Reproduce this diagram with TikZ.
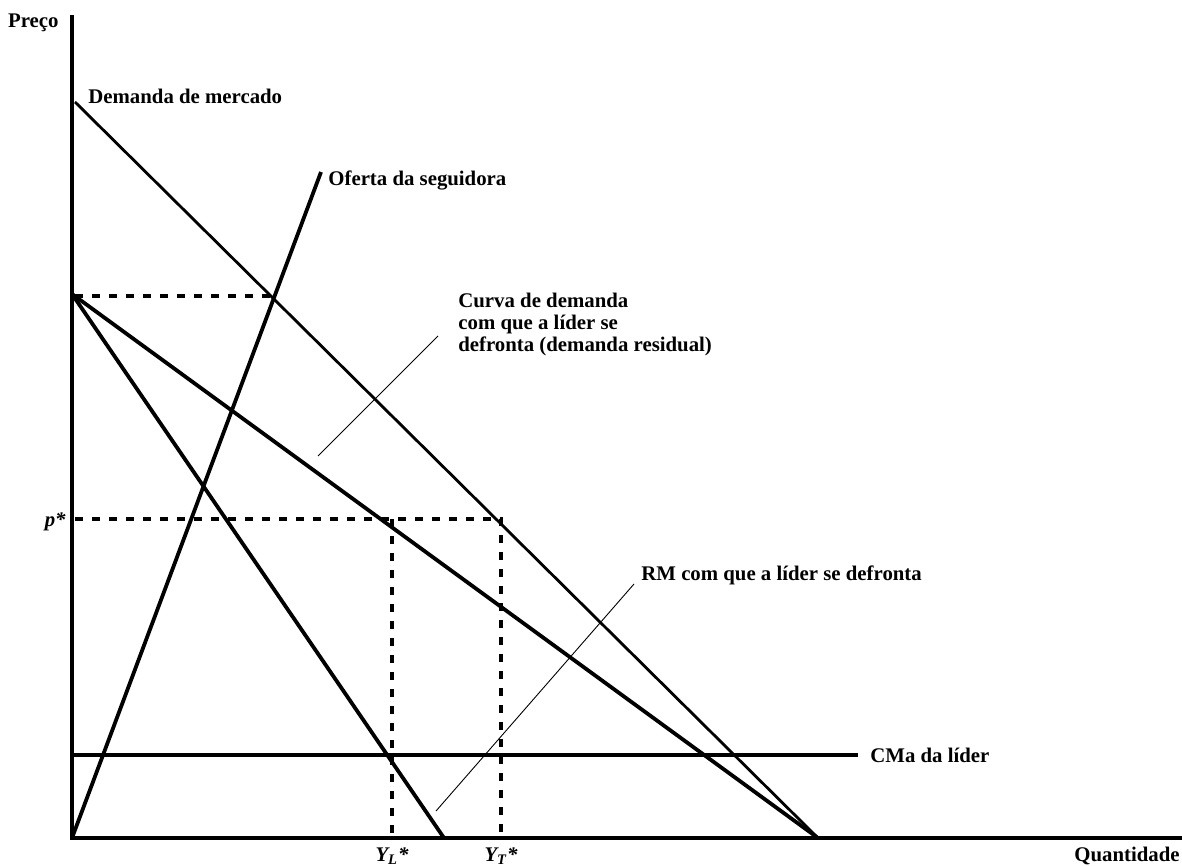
\documentclass[tikz,border=0pt]{standalone}
\usepackage{fontspec}
\setmainfont{Liberation Serif}
\tikzset{
	axis/.style={line width=1.8pt},
	curve/.style={line width=1.9pt},
	mktcurve/.style={line width=1.4pt},
	guide/.style={line width=1.9pt, dash pattern=on 4pt off 4.5pt},
	leader/.style={line width=0.45pt},
	lbl/.style={font=\fontsize{10.4}{10.8}\selectfont\bfseries, inner sep=0pt},
}
\begin{document}
\begin{tikzpicture}[x=0.5pt, y=-0.5pt]
	\useasboundingbox (0,0) rectangle (1182,866);
	\coordinate (O) at (72,838);
	\coordinate (ytop) at (72,15);
	\coordinate (xend) at (1182,838);
	\coordinate (mktA) at (75,102);
	\coordinate (mktB) at (818,838);
	\coordinate (supB) at (321,172);
	\coordinate (resA) at (72,294);
	\coordinate (rmB) at (444,838);
	\coordinate (cmaA) at (72,755);
	\coordinate (cmaB) at (858,755);
	\coordinate (topA) at (75,296);
	\coordinate (topB) at (275,296);
	\coordinate (pA) at (75,519);
	\coordinate (pB) at (501,519);
	\coordinate (yl) at (392,838);
	\coordinate (ylt) at (392,519);
	\coordinate (yt) at (501,838);
	\coordinate (curvaA) at (318,456);
	\coordinate (curvaB) at (438,336);
	\coordinate (rmA) at (436,811);
	\coordinate (rmC) at (634,584);
	\draw[axis] (ytop) -- (O) -- (xend);
	\draw[mktcurve] (mktA) -- (mktB);
	\draw[curve] (O) -- (supB);
	\draw[curve] (resA) -- (mktB);
	\draw[curve] (resA) -- (rmB);
	\draw[curve] (cmaA) -- (cmaB);
	\draw[guide] (topA) -- (topB);
	\draw[guide] (pA) -- (pB) -- (yt);
	\draw[guide] (ylt) -- (yl);
	\draw[leader] (curvaA) -- (curvaB);
	\draw[leader] (rmA) -- (rmC);
	\node[lbl, anchor=east] (preco) at (59,23) {Preço};
	\node[lbl, anchor=west] (mkt) at (88,96) {Demanda de mercado};
	\node[lbl, anchor=west] (sup) at (328,180) {Oferta da seguidora};
	\node[lbl, anchor=north west, align=left] (curva) at (458,293) {Curva de demanda\\com que a líder se\\defronta (demanda residual)};
	\node[lbl, anchor=west] (rm) at (641,575) {RM com que a líder se defronta};
	\node[lbl, anchor=west] (cma) at (870,755) {CMa da líder};
	\node[lbl, anchor=east] (pstar) at (66,522) {\itshape p*};
	\node[lbl, anchor=north] (ylbl) at (392,847) {\itshape Y\textsubscript{L}*};
	\node[lbl, anchor=north] (ytlbl) at (501,847) {\itshape Y\textsubscript{T}*};
	\node[lbl, anchor=north east] (qtd) at (1180,847) {Quantidade};
\end{tikzpicture}
\end{document}
